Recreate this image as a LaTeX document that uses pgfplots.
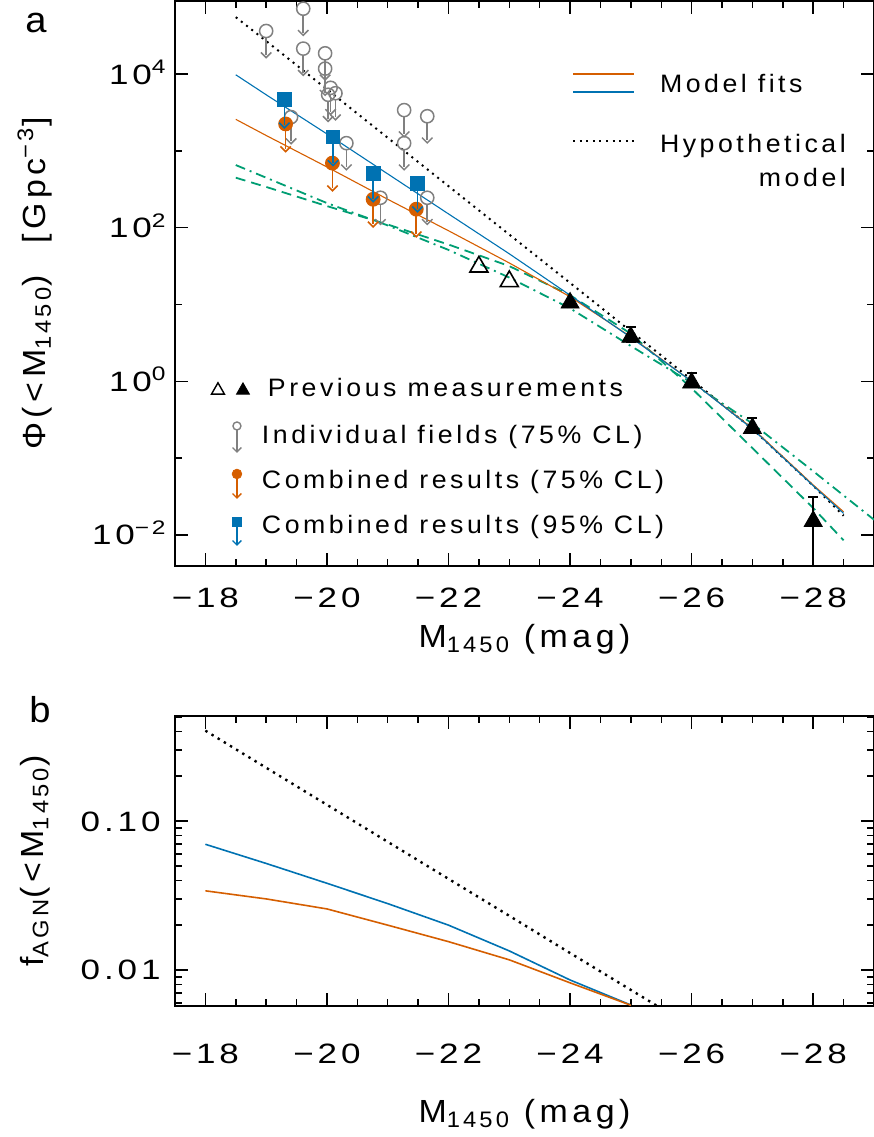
\documentclass[border=0pt]{standalone}
\usepackage{fontspec}
\setmainfont{Liberation Sans}[LetterSpace=14, FakeStretch=1.06]
\newfontfamily\tickfont{Liberation Sans}[LetterSpace=14, FakeStretch=1.25]
\usepackage{pgfplots}
\pgfplotsset{compat=1.18}
\definecolor{cOrange}{RGB}{213,94,0}
\definecolor{cBlue}{RGB}{0,114,178}
\definecolor{cGreen}{RGB}{0,158,115}
\definecolor{cGray}{RGB}{128,128,128}
% arrow head for upper limits (error marks are turned to follow the bar)
\pgfdeclareplotmark{varrow}{%
  \pgfpathmoveto{\pgfqpoint{-2.6pt}{2.6pt}}%
  \pgfpathlineto{\pgfqpoint{0pt}{0pt}}%
  \pgfpathlineto{\pgfqpoint{-2.6pt}{-2.6pt}}%
  \pgfusepathqstroke}
\begin{document}
\begin{tikzpicture}
% ---------------- Panel a ----------------
\begin{axis}[scale only axis, width=349.5pt, height=282.5pt, anchor=south west, at={(87.5pt,285.5pt)},
  clip mode=individual,
  xmin=-29, xmax=-17.5, x dir=reverse, ymode=log,
  ymin=0.003945, ymax=89200,
  xtick={-18,-20,-22,-24,-26,-28},
  xticklabels={−18,−20,−22,−24,−26,−28},
  minor xtick={-28.5,-28,...,-17.5},
  ytick={0.01,1,100,10000},
  yticklabels={10\textsuperscript{−2},10\textsuperscript{0},10\textsuperscript{2},10\textsuperscript{4}},
  minor ytick={0.1,10,1000},
  tick align=inside, tick pos=both, ticklabel pos=left,
  major tick length=6.5pt, minor tick length=3.3pt,
  every tick/.append style={black, line width=0.75pt},
  axis line style={line width=0.8pt},
  tick label style={font=\tickfont\fontsize{14}{16}\selectfont, inner sep=0pt},
  label style={font=\fontsize{16}{19}\selectfont},
  xticklabel style={anchor=base, yshift=-20.5pt},
  yticklabel style={anchor=base east, xshift=-4pt, yshift=-5pt},
  xlabel={M\textsubscript{1450} (mag)},
  xlabel style={at={(axis description cs:0.5,-0.1434)}, anchor=base},
  ylabel={Φ(<M\textsubscript{1450})\quad[Gpc\textsuperscript{−3}]},
  ylabel style={at={(axis description cs:-0.2003,0.5)}, anchor=center},
]
% hypothetical model
\addplot[black, line width=1pt, dash pattern=on 1pt off 2.3pt] coordinates {
 (-18.5,54950) (-19,26900) (-20,6310) (-21,1479) (-22,347) (-23,81.3) (-24,19.1)
 (-25,4.47) (-26,1.05) (-27,0.240) (-28,0.0437) (-28.5,0.0178)};
% green dashed
\addplot[cGreen, line width=0.9pt, dash pattern=on 5pt off 3pt] coordinates {
 (-18.5,447) (-19,339) (-20,191) (-21,110) (-22,60.3) (-23,31.6) (-24,13.2)
 (-25,4.17) (-26,0.813) (-27,0.135) (-28,0.0224) (-28.5,0.00851)};
% green dash-dot
\addplot[cGreen, line width=0.9pt, dash pattern=on 5pt off 2.5pt on 1pt off 2.5pt] coordinates {
 (-18.5,653) (-19,447) (-20,209) (-21,107) (-22,51.3) (-23,22.4) (-24,8.91)
 (-25,2.88) (-26,0.955) (-27,0.282) (-28,0.0676) (-29,0.0158)};
% model fits
\addplot[cOrange, line width=0.55pt] coordinates {
 (-18.5,2570) (-19,1585) (-20,617) (-21,234) (-22,91.2) (-23,34.7) (-24,12.6)
 (-25,3.80) (-26,1.0) (-27,0.245) (-28,0.0447) (-28.5,0.0200)};
\addplot[cBlue, line width=0.55pt] coordinates {
 (-18.5,9772) (-19,5370) (-20,1660) (-21,501) (-22,151) (-23,45.7) (-24,13.2)
 (-25,3.72) (-26,1.0) (-27,0.240) (-28,0.0437) (-28.5,0.0191)};
% previous measurements (open)
\addplot[only marks, mark=triangle, mark size=5.2pt, mark options={black, line width=0.8pt}] coordinates {
 (-22.5,30.9) (-23.0,20.0)};
% previous measurements (filled)
\addplot[only marks, mark=triangle*, mark size=5.2pt, black,
  error bars/.cd, y dir=both, y explicit,
  error bar style={line width=1pt, black},
  error mark=|, error mark options={black, line width=1pt, mark size=2.5pt}] coordinates {
 (-24,10.5) += (0,0.4) -= (0,0.4)
 (-25,3.76) += (0,1.32) -= (0,0.49)
 (-26,0.955) += (0,0.335) -= (0,0.124)
 (-27,0.245) += (0,0.086) -= (0,0.032)
 (-28,0.0151) += (0,0.0158) -= (0,0.01509)};
% individual fields (75% CL)
\addplot[only marks, mark=o, mark size=3.3pt, cGray, line width=0.75pt,
  error bars/.cd, y dir=minus, y explicit,
  error bar style={cGray, line width=0.75pt, shorten <=3.3pt},
  error mark=varrow, error mark options={cGray, line width=0.75pt}] coordinates {
 (-19.0,36300) -= (0,18622)
 (-19.61,70800) -= (0,36320)
 (-19.61,21400) -= (0,10978)
 (-19.97,18600) -= (0,9542)
 (-19.97,11750) -= (0,6028)
 (-20.06,6610) -= (0,3391)
 (-20.14,5620) -= (0,2883)
 (-20.02,5370) -= (0,2755)
 (-19.41,2750) -= (0,1411)
 (-20.32,1259) -= (0,646)
 (-21.27,3390) -= (0,1739)
 (-21.65,2820) -= (0,1447)
 (-21.27,1259) -= (0,646)
 (-20.88,245) -= (0,125.7)
 (-21.65,245) -= (0,125.7)};
% combined 75% CL
\addplot[only marks, mark=*, mark size=3.3pt, cOrange, line width=0.8pt,
  error bars/.cd, y dir=minus, y explicit,
  error bar style={cOrange, line width=0.8pt},
  error mark=varrow, error mark options={cOrange, line width=0.8pt}] coordinates {
 (-19.32,2239) -= (0,1181)
 (-20.09,692) -= (0,365)
 (-20.76,234) -= (0,123.4)
 (-21.47,174) -= (0,91.8)};
% combined 95% CL
\addplot[only marks, mark=square*, mark size=3.3pt, cBlue, line width=0.8pt,
  error bars/.cd, y dir=minus, y explicit,
  error bar style={cBlue, line width=0.8pt},
  error mark=varrow, error mark options={cBlue, line width=0.8pt}] coordinates {
 (-19.30,4677) -= (0,2530)
 (-20.10,1514) -= (0,819)
 (-20.76,513) -= (0,277.5)
 (-21.49,380) -= (0,205.6)};
\node[font=\fontsize{18}{20}\selectfont, anchor=base] at (axis description cs:-0.199,0.9434) {a};
\end{axis}
% legend: model lines
\begin{axis}[scale only axis, width=349.5pt, height=282.5pt, anchor=south west, at={(87.5pt,285.5pt)},
  hide axis, xmin=0, xmax=1, ymin=0, ymax=1,
  legend cell align=left,
  legend style={draw=none, fill=none, inner sep=0pt, outer sep=0pt, row sep=0pt,
    font=\fontsize{12.6}{15}\selectfont,
    nodes={inner sep=0pt, text height=9pt, text depth=0pt},
    at={(axis description cs:0.568,0.8867)}, anchor=north west, column sep=12.5pt}]
\addlegendimage{legend image code/.code={
  \path[draw=none, fill=none] (0pt,-15pt) rectangle (30.5pt,9pt);
  \draw[cOrange, line width=0.6pt] (0pt,4.5pt) -- (30.5pt,4.5pt);
  \draw[cBlue, line width=0.6pt] (0pt,-4.5pt) -- (30.5pt,-4.5pt);}}
\addlegendentry{Model fits}
\addlegendimage{legend image code/.code={
  \path[draw=none, fill=none] (0pt,-8.5pt) rectangle (30.5pt,15pt);
  \draw[black, line width=1pt, dash pattern=on 1pt off 2.3pt] (0pt,1pt) -- (30.5pt,1pt);}}
\addlegendentry{Hypothetical}
\addlegendimage{legend image code/.code={
  \path[draw=none, fill=none] (0pt,-8.5pt) rectangle (30.5pt,8.5pt);}}
\addlegendentry{\hphantom{Hypothetical}\llap{model}}
\end{axis}
% legend: measurements
\begin{axis}[scale only axis, width=349.5pt, height=282.5pt, anchor=south west, at={(87.5pt,285.5pt)},
  hide axis, xmin=0, xmax=1, ymin=0, ymax=1,
  legend cell align=left,
  legend style={draw=none, fill=none, inner sep=0pt, outer sep=0pt, row sep=0pt,
    font=\fontsize{12.6}{15}\selectfont,
    nodes={inner sep=0pt, text height=9pt, text depth=0pt},
    at={(axis description cs:0.0486,0.3549)}, anchor=north west, column sep=4.5pt}]
\addlegendimage{legend image code/.code={
  \path[draw=none, fill=none] (-14pt,-12.25pt) rectangle (8pt,11.25pt);
  \draw[black, line width=0.7pt] (-9.5pt,2.6pt) -- (-12.75pt,-3.1pt) -- (-6.25pt,-3.1pt) -- cycle;
  \fill[black] (3pt,2.6pt) -- (-0.25pt,-3.1pt) -- (6.25pt,-3.1pt) -- cycle;}}
\addlegendentry{\hspace*{3pt}Previous measurements}
\addlegendimage{legend image code/.code={
  \path[draw=none, fill=none] (-14pt,-11.25pt) rectangle (8pt,11.25pt);
  \draw[cGray, line width=0.7pt] (0pt,4.5pt) circle (2pt);
  \draw[cGray, line width=0.7pt] (0pt,2.5pt) -- (0pt,-8.5pt);
  \draw[cGray, line width=0.7pt] (-2.2pt,-6.3pt) -- (0pt,-8.5pt) -- (2.2pt,-6.3pt);}}
\addlegendentry{Individual fields (75\% CL)}
\addlegendimage{legend image code/.code={
  \path[draw=none, fill=none] (-14pt,-11.25pt) rectangle (8pt,11.25pt);
  \draw[cOrange, line width=0.7pt] (0pt,3pt) -- (0pt,-9pt);
  \draw[cOrange, line width=0.7pt] (-2.2pt,-6.8pt) -- (0pt,-9pt) -- (2.2pt,-6.8pt);
  \fill[cOrange] (0pt,3pt) circle (2.4pt);}}
\addlegendentry{Combined results (75\% CL)}
\addlegendimage{legend image code/.code={
  \path[draw=none, fill=none] (-14pt,-11.25pt) rectangle (8pt,11.25pt);
  \draw[cBlue, line width=0.7pt] (0pt,1.5pt) -- (0pt,-10pt);
  \draw[cBlue, line width=0.7pt] (-2.2pt,-7.8pt) -- (0pt,-10pt) -- (2.2pt,-7.8pt);
  \fill[cBlue] (-2.4pt,-0.9pt) rectangle (2.4pt,3.9pt);}}
\addlegendentry{Combined results (95\% CL)}
\end{axis}
% ---------------- Panel b ----------------
\begin{axis}[scale only axis, width=349.5pt, height=145pt, anchor=south west, at={(87.5pt,65.5pt)},
  clip mode=individual,
  xmin=-29, xmax=-17.5, x dir=reverse, ymode=log,
  ymin=0.005733, ymax=0.5067,
  xtick={-18,-20,-22,-24,-26,-28},
  xticklabels={−18,−20,−22,−24,−26,−28},
  minor xtick={-28.5,-28,...,-17.5},
  ytick={0.01,0.1}, yticklabels={0.01,0.10},
  minor ytick={0.006,0.007,0.008,0.009,0.02,0.03,0.04,0.05,0.06,0.07,0.08,0.09,0.2,0.3,0.4,0.5},
  tick align=inside, tick pos=both, ticklabel pos=left,
  major tick length=6.5pt, minor tick length=3.3pt,
  every tick/.append style={black, line width=0.75pt},
  axis line style={line width=0.8pt},
  tick label style={font=\tickfont\fontsize{14}{16}\selectfont, inner sep=0pt},
  label style={font=\fontsize{16}{19}\selectfont},
  xticklabel style={anchor=base, yshift=-28.5pt},
  yticklabel style={anchor=base east, xshift=-7pt, yshift=-5pt},
  xlabel={M\textsubscript{1450} (mag)},
  xlabel style={at={(axis description cs:0.5,-0.40)}, anchor=base},
  ylabel={f\textsubscript{AGN}(<M\textsubscript{1450})},
  ylabel style={at={(axis description cs:-0.2003,0.5)}, anchor=center},
]
\addplot[black, line width=1.2pt, dash pattern=on 1.2pt off 2.4pt] coordinates {
 (-18,0.404) (-19,0.2278) (-20,0.1285) (-21,0.0725) (-22,0.0409) (-23,0.0231)
 (-24,0.0130) (-25,0.00735) (-26,0.00415)};
\addplot[cBlue, line width=0.8pt] coordinates {
 (-18,0.0698) (-19,0.0519) (-20,0.0382) (-21,0.0279) (-22,0.0200) (-23,0.01343)
 (-24,0.00857) (-25,0.00582)};
\addplot[cOrange, line width=0.8pt] coordinates {
 (-18,0.0340) (-19,0.0300) (-20,0.0257) (-21,0.0200) (-22,0.0155) (-23,0.0117)
 (-24,0.0082) (-25,0.0058)};
\node[font=\fontsize{18}{20}\selectfont, anchor=base] at (axis description cs:-0.193,0.976) {b};
\end{axis}
\pgfresetboundingbox
\path[use as bounding box] (0pt,0pt) rectangle (437pt,568.5pt);
\end{tikzpicture}
\end{document}
